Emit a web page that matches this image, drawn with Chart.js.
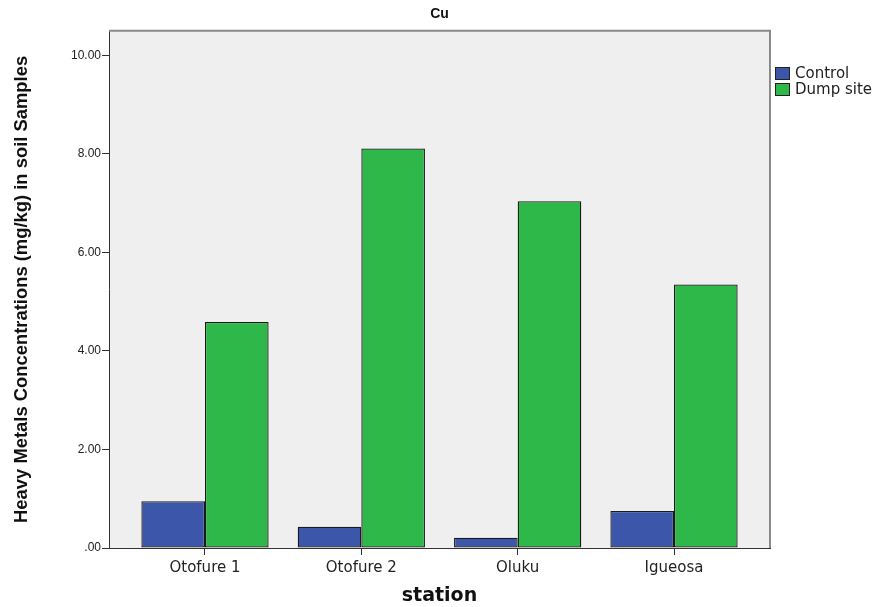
<!doctype html>
<html lang="en">
<head>
    <meta charset="utf-8">
    <script src="https://cdn.jsdelivr.net/npm/chart.js"></script>
    <style>
        body { margin: 0; background: #fff; }
    </style>
</head>
<body>
    <canvas id="myGraph" width="875" height="607"></canvas>

    <script>
        // data
        var stations = ['Otofure 1', 'Otofure 2', 'Oluku', 'Igueosa'];
        var control = [0.95, 0.43, 0.21, 0.75];
        var dumpSite = [4.59, 8.11, 7.04, 5.35];
        var yTicks = [0, 2, 4, 6, 8, 10];

        var positions = stations.map(function (s, i) { return i + 1; });

        Chart.defaults.font.family = "'Liberation Sans', Arial, sans-serif";
        Chart.defaults.color = '#222';

        // grey plot background + top/right frame
        var plotFrame = {
            id: 'plotFrame',
            beforeDraw: function (chart) {
                var ctx = chart.ctx, a = chart.chartArea;
                ctx.save();
                ctx.fillStyle = '#efefef';
                ctx.fillRect(a.left, a.top, a.right - a.left, a.bottom - a.top);
                ctx.restore();
            },
            afterDraw: function (chart) {
                var ctx = chart.ctx, a = chart.chartArea;
                ctx.save();
                ctx.strokeStyle = '#8a8a8a';
                ctx.lineWidth = 2;
                ctx.beginPath();
                ctx.moveTo(a.left, a.top);
                ctx.lineTo(a.right, a.top);
                ctx.lineTo(a.right, a.bottom);
                ctx.stroke();
                ctx.restore();
            }
        };

        // legend to the right of the plot, like the SPSS one
        var sideLegend = {
            id: 'sideLegend',
            afterDraw: function (chart) {
                var ctx = chart.ctx, a = chart.chartArea;
                ctx.save();
                ctx.font = "15px 'DejaVu Sans', sans-serif";
                ctx.textBaseline = 'middle';
                chart.data.datasets.forEach(function (ds, i) {
                    var x = a.right + 5, y = 67 + i * 16;
                    ctx.fillStyle = ds.backgroundColor;
                    ctx.fillRect(x, y, 15, 13);
                    ctx.strokeStyle = '#222';
                    ctx.lineWidth = 1;
                    ctx.strokeRect(x + 0.5, y + 0.5, 14, 12);
                    ctx.fillStyle = '#222';
                    ctx.fillText(ds.label, x + 20, y + 7);
                });
                ctx.restore();
            }
        };

        var data = {
            labels: positions,
            datasets: [{
                label: 'Control',
                backgroundColor: '#3c56a9',
                borderColor: '#1a1a1a',
                borderWidth: 1.3,
                borderSkipped: false,
                data: control
            },
            {
                label: 'Dump site',
                backgroundColor: '#2fb84a',
                borderColor: '#1a1a1a',
                borderWidth: 1.3,
                borderSkipped: false,
                data: dumpSite
            }]
        };

        var config = {
            type: 'bar',
            data: data,
            options: {
                responsive: false,
                animation: false,
                devicePixelRatio: 1,
                categoryPercentage: 0.814,
                barPercentage: 1,
                layout: { padding: { left: 0, right: 105, top: 0, bottom: 0 } },
                plugins: {
                    legend: { display: false },
                    tooltip: { enabled: false },
                    title: {
                        display: true,
                        text: 'Cu',
                        fullSize: false,
                        color: '#111',
                        font: { size: 14, weight: 'bold' },
                        padding: { top: 6, bottom: 8 }
                    }
                },
                scales: {
                    x: {
                        type: 'linear',
                        offset: false,
                        min: 0.386,
                        max: 4.614,
                        afterFit: function (scale) { scale.height = 59; },
                        border: { color: '#333', width: 1 },
                        grid: { drawOnChartArea: false, drawTicks: true, tickLength: 7, color: '#333', offset: false },
                        ticks: {
                            stepSize: 1,
                            includeBounds: false,
                            autoSkip: false,
                            maxRotation: 0,
                            padding: 4,
                            color: '#222',
                            font: { family: "'DejaVu Sans', sans-serif", size: 15 },
                            callback: function (v) { return stations[v - 1] || ''; }
                        },
                        title: {
                            display: true,
                            text: 'station',
                            color: '#111',
                            font: { family: "'DejaVu Sans', sans-serif", size: 19, weight: 'bold' },
                            padding: { top: 0, bottom: 0 }
                        }
                    },
                    y: {
                        min: 0,
                        max: 10.5,
                        afterFit: function (scale) { scale.width = 109; },
                        afterBuildTicks: function (scale) {
                            scale.ticks = yTicks.map(function (v) { return { value: v }; });
                        },
                        border: { color: '#333', width: 1 },
                        grid: { drawOnChartArea: false, drawTicks: true, tickLength: 7, color: '#333' },
                        ticks: {
                            padding: 1,
                            color: '#222',
                            font: { size: 12 },
                            callback: function (v) { return v === 0 ? '.00' : v.toFixed(2); }
                        },
                        title: {
                            display: true,
                            text: 'Heavy Metals Concentrations (mg/kg) in soil Samples',
                            color: '#111',
                            font: { family: "'Liberation Sans Narrow', 'Liberation Sans', sans-serif", size: 18.4, weight: 'bold' },
                            padding: { top: 11, bottom: 0 }
                        }
                    }
                }
            },
            plugins: [plotFrame, sideLegend]
        };

        var myChart = new Chart(document.getElementById('myGraph'), config);
    </script>
</body>
</html>
